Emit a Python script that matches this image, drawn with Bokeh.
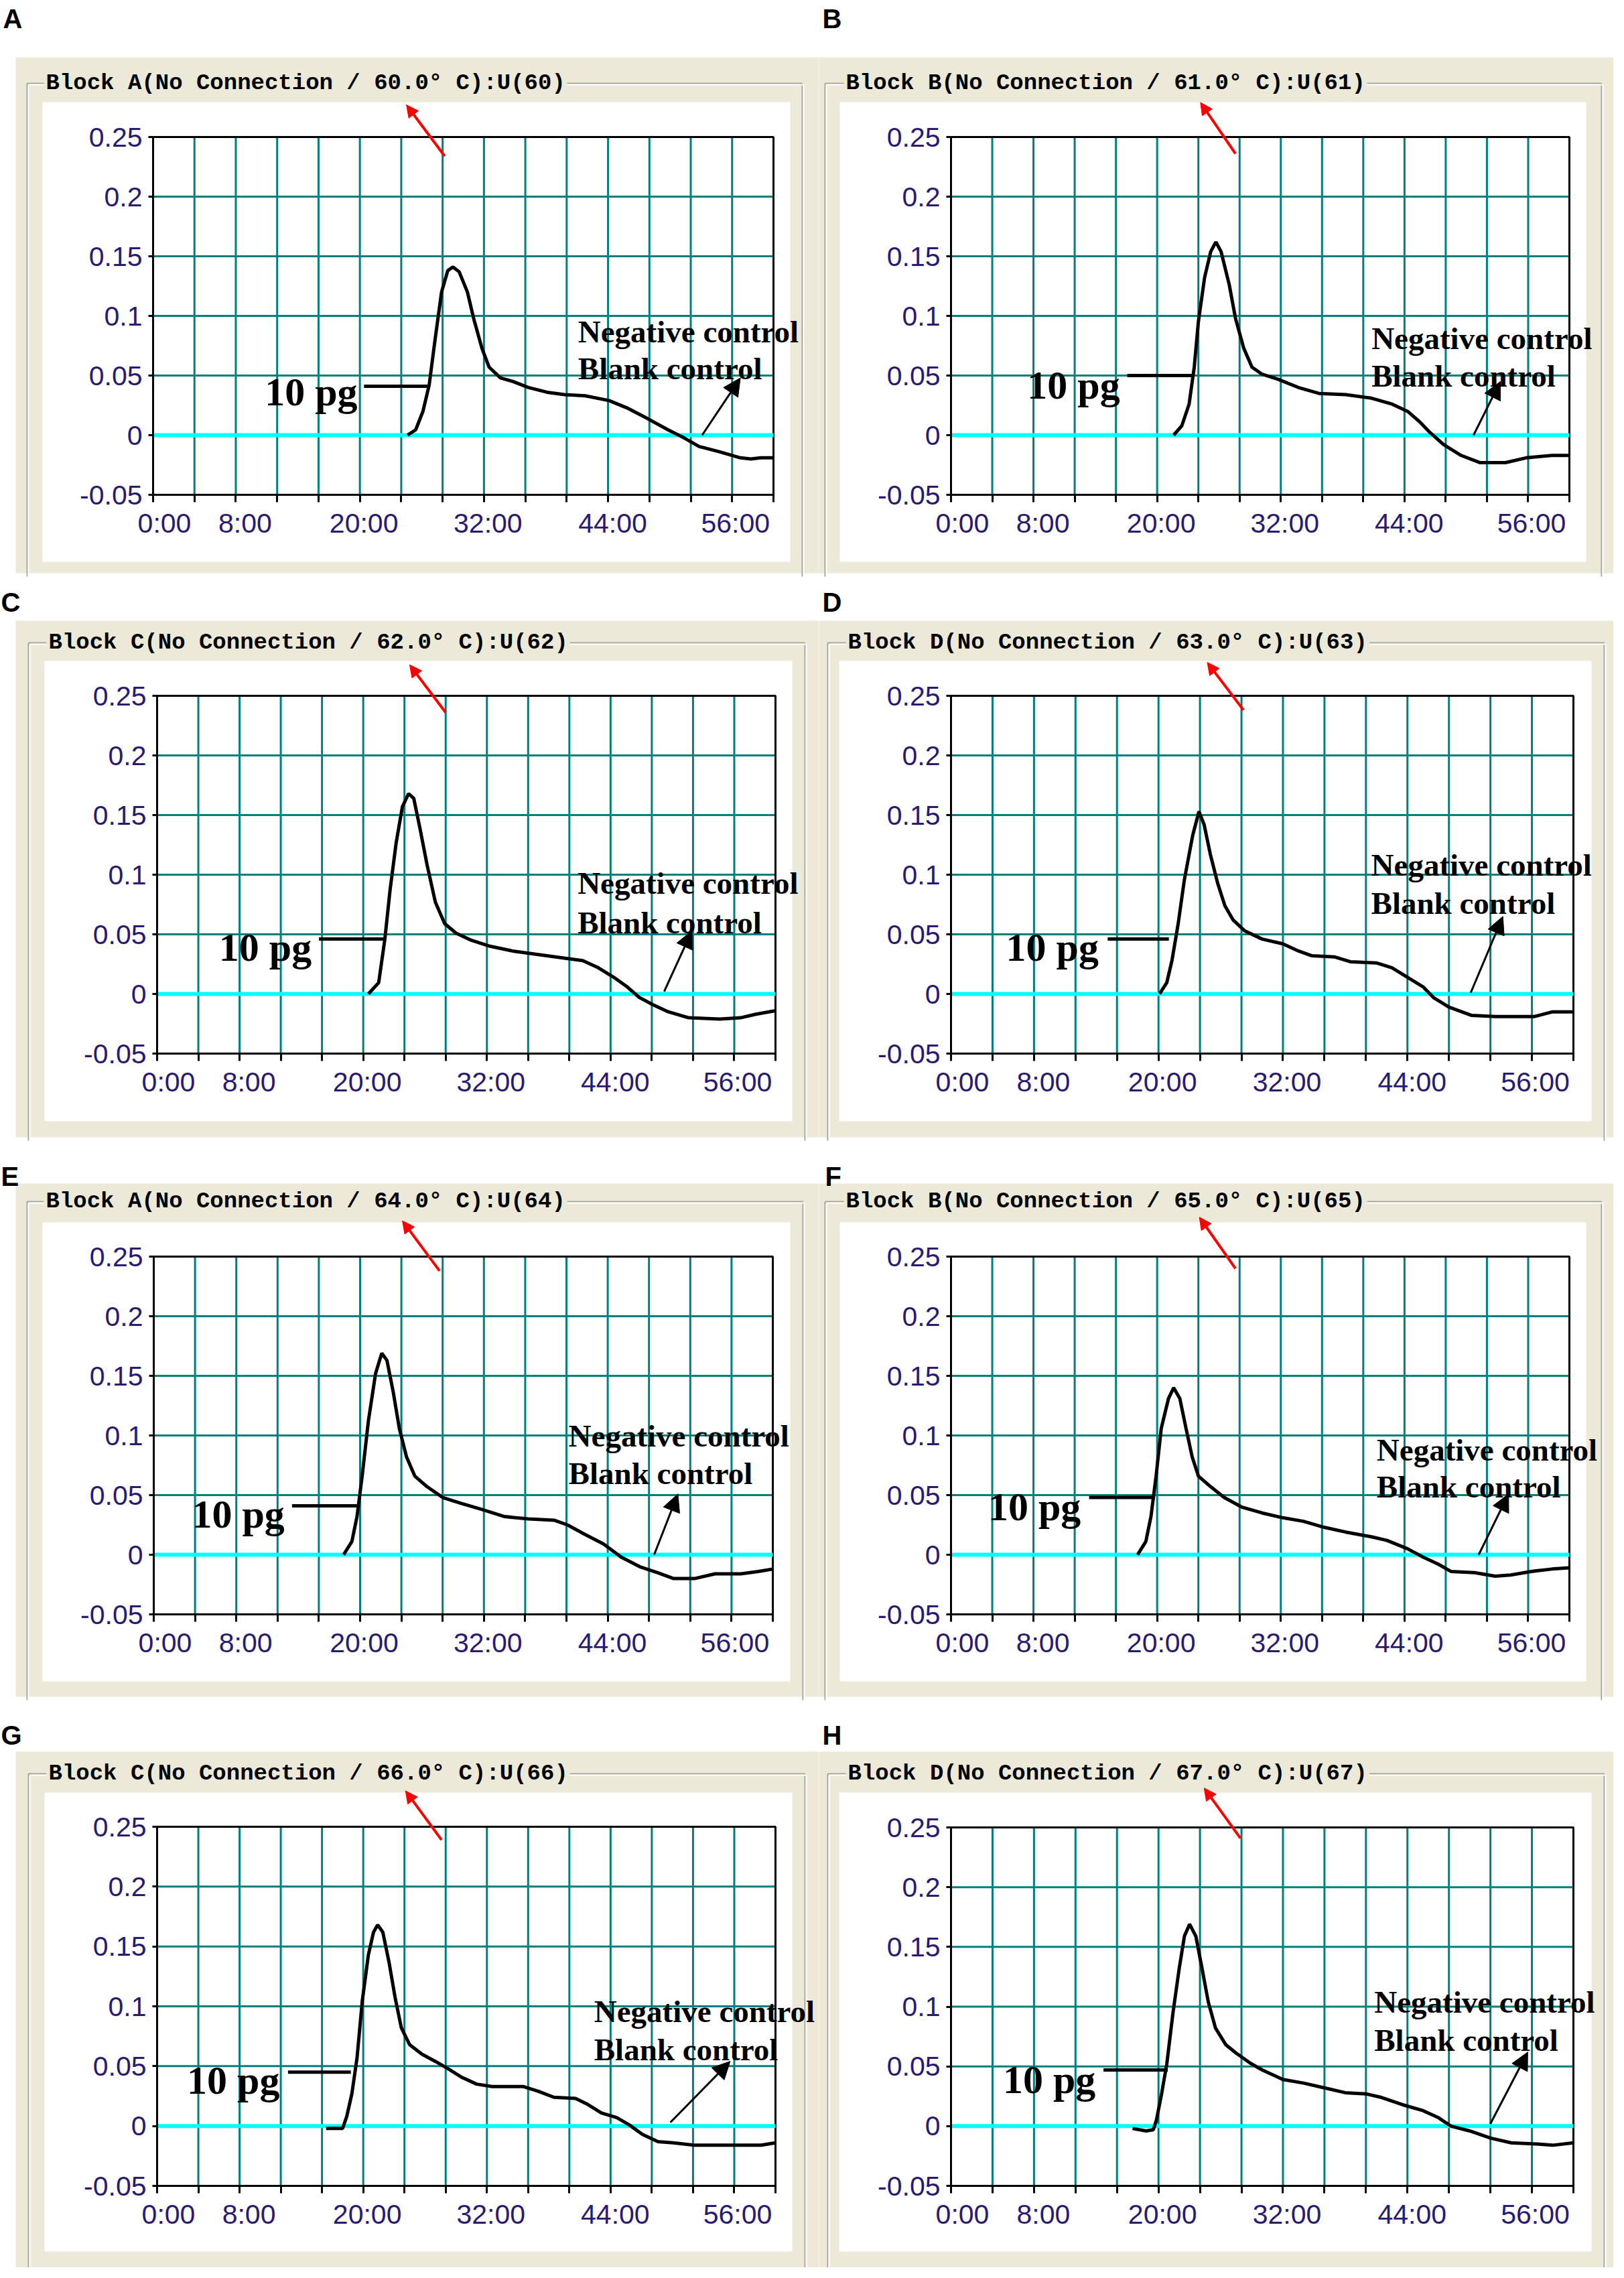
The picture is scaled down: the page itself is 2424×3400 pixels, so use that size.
from bokeh.plotting import figure
from bokeh.models import (Range1d, FixedTicker, CustomJSTickFormatter, BoxAnnotation,
                          Label, Arrow, NormalHead, LinearAxis)
from bokeh.layouts import column, row
from bokeh.embed import file_html
from bokeh.resources import INLINE

# ---------------- data ----------------
X_TICKS = [0, 4, 8, 12, 16, 20, 24, 28, 32, 36, 40, 44, 48, 52, 56, 60]
X_LABEL_POS = [0, 8, 20, 32, 44, 56]
X_LABELS = ["0:00", "8:00", "20:00", "32:00", "44:00", "56:00"]
Y_TICKS = [-0.05, 0, 0.05, 0.1, 0.15, 0.2, 0.25]
Y_LABELS = ["-0.05", "0", "0.05", "0.1", "0.15", "0.2", "0.25"]
X_MIN, X_MAX = 0, 60
Y_MIN, Y_MAX = -0.05, 0.25

PANEL_LETTERS = ["A", "B", "C", "D", "E", "F", "G", "H"]
BLOCKS = ["A", "B", "C", "D", "A", "B", "C", "D"]
TEMPS = [60, 61, 62, 63, 64, 65, 66, 67]

# blank / negative control traces (flat at zero)
CONTROL_TIME = [0, 60]
CONTROL_SIGNAL = [0, 0]

# 10 pg amplification traces (minutes, signal)
A_TIME = [24.6, 25.4, 26.1, 26.7, 27.3, 27.9, 28.5, 29.0, 29.6, 30.4, 31.0, 31.8, 32.5, 33.6, 34.8,
          36.3, 38.1, 39.8, 41.8, 44.1, 45.8, 47.8, 49.8, 51.3, 52.8, 54.8, 56.8, 57.8, 58.8, 60.0]
A_SIGNAL = [0.0, 0.0045, 0.020, 0.042, 0.082, 0.120, 0.138, 0.141, 0.137, 0.120, 0.098, 0.073, 0.057,
            0.048, 0.045, 0.040, 0.036, 0.034, 0.033, 0.029, 0.023, 0.014, 0.0045, -0.002, -0.0095,
            -0.014, -0.019, -0.020, -0.019, -0.019]

B_TIME = [21.6, 22.4, 23.1, 23.6, 24.0, 24.6, 25.2, 25.7, 26.2, 27.0, 27.6, 28.4, 29.2, 30.2, 31.7,
          33.7, 35.7, 38.3, 40.8, 42.8, 44.3, 45.5, 46.5, 47.8, 49.5, 51.3, 53.8, 55.8, 58.3, 60.0]
B_SIGNAL = [0.0, 0.008, 0.026, 0.057, 0.095, 0.132, 0.154, 0.162, 0.154, 0.126, 0.098, 0.073, 0.057,
            0.051, 0.047, 0.040, 0.035, 0.034, 0.031, 0.026, 0.020, 0.011, 0.002, -0.008, -0.017,
            -0.023, -0.023, -0.019, -0.017, -0.017]

C_TIME = [20.5, 21.5, 22.1, 22.6, 23.2, 23.8, 24.4, 24.9, 25.5, 26.2, 27.0, 27.9, 29.0, 30.5, 32.3,
          34.5, 37.0, 39.5, 41.3, 42.8, 44.3, 45.6, 46.8, 48.1, 49.6, 51.6, 54.6, 56.6, 58.1, 60.0]
C_SIGNAL = [0.0, 0.0095, 0.046, 0.087, 0.127, 0.157, 0.168, 0.164, 0.139, 0.108, 0.077, 0.059, 0.051,
            0.045, 0.040, 0.036, 0.033, 0.030, 0.028, 0.022, 0.014, 0.006, -0.003, -0.009, -0.015,
            -0.020, -0.021, -0.020, -0.017, -0.014]

D_TIME = [20.1, 20.8, 21.3, 21.9, 22.5, 23.3, 23.9, 24.4, 25.0, 25.7, 26.4, 27.2, 28.3, 30.0, 32.0,
          33.5, 34.8, 37.0, 38.5, 41.0, 42.5, 44.0, 45.5, 46.5, 48.0, 50.2, 52.5, 56.2, 58.0, 60.0]
D_SIGNAL = [0.0, 0.0095, 0.028, 0.059, 0.096, 0.133, 0.153, 0.142, 0.117, 0.093, 0.074, 0.062, 0.053,
            0.046, 0.042, 0.036, 0.032, 0.031, 0.027, 0.026, 0.022, 0.014, 0.006, -0.003, -0.011,
            -0.018, -0.019, -0.019, -0.015, -0.015]

E_TIME = [18.4, 19.2, 19.7, 20.2, 20.8, 21.5, 22.1, 22.6, 23.2, 23.8, 24.5, 25.3, 26.5, 28.0, 29.8,
          31.8, 34.0, 36.3, 38.8, 40.1, 41.8, 43.6, 45.3, 47.1, 48.8, 50.4, 52.4, 54.4, 56.9, 58.6, 60.0]
E_SIGNAL = [0.0, 0.011, 0.032, 0.066, 0.112, 0.152, 0.169, 0.163, 0.137, 0.106, 0.082, 0.066, 0.057,
            0.048, 0.043, 0.038, 0.032, 0.030, 0.029, 0.025, 0.017, 0.009, -0.002, -0.010, -0.015,
            -0.020, -0.020, -0.016, -0.016, -0.014, -0.012]

F_TIME = [18.1, 18.9, 19.4, 19.9, 20.4, 21.1, 21.6, 22.2, 22.8, 23.4, 24.0, 25.2, 26.5, 28.2, 30.2,
          32.2, 34.2, 36.2, 38.3, 40.8, 42.3, 44.3, 45.8, 47.3, 48.5, 50.8, 52.8, 54.3, 56.3, 58.3, 60.0]
F_SIGNAL = [0.0, 0.011, 0.032, 0.066, 0.106, 0.131, 0.140, 0.131, 0.106, 0.082, 0.066, 0.057, 0.048,
            0.040, 0.035, 0.031, 0.028, 0.023, 0.019, 0.015, 0.012, 0.005, -0.002, -0.008, -0.014,
            -0.015, -0.018, -0.017, -0.014, -0.012, -0.011]

G_TIME = [16.4, 18.0, 18.4, 18.9, 19.4, 19.9, 20.5, 21.0, 21.4, 21.9, 22.5, 23.1, 23.7, 24.5, 25.7,
          27.0, 28.2, 29.5, 31.0, 32.5, 35.5, 37.0, 38.5, 40.6, 41.8, 43.1, 44.6, 45.8, 47.1, 48.6,
          50.1, 52.1, 55.6, 58.6, 60.0]
G_SIGNAL = [-0.002, -0.002, 0.008, 0.027, 0.057, 0.104, 0.143, 0.162, 0.168, 0.162, 0.137, 0.107,
            0.082, 0.068, 0.060, 0.054, 0.048, 0.041, 0.035, 0.033, 0.033, 0.029, 0.024, 0.023, 0.018,
            0.011, 0.007, 0.001, -0.007, -0.013, -0.014, -0.016, -0.016, -0.016, -0.014]

H_TIME = [17.5, 18.8, 19.5, 19.8, 20.3, 20.8, 21.4, 22.0, 22.5, 23.0, 23.6, 24.2, 24.8, 25.5, 26.5,
          27.5, 28.8, 30.0, 32.0, 34.0, 36.0, 38.0, 40.0, 41.5, 43.5, 45.5, 47.0, 48.2, 50.0, 52.0,
          54.0, 56.5, 58.0, 60.0]
H_SIGNAL = [-0.002, -0.004, -0.003, 0.005, 0.027, 0.052, 0.095, 0.132, 0.159, 0.169, 0.159, 0.132,
            0.104, 0.082, 0.068, 0.061, 0.053, 0.047, 0.039, 0.036, 0.032, 0.028, 0.027, 0.024, 0.018,
            0.013, 0.007, 0.000, -0.004, -0.010, -0.014, -0.015, -0.016, -0.014]

TRACES = [(A_TIME, A_SIGNAL), (B_TIME, B_SIGNAL), (C_TIME, C_SIGNAL), (D_TIME, D_SIGNAL),
          (E_TIME, E_SIGNAL), (F_TIME, F_SIGNAL), (G_TIME, G_SIGNAL), (H_TIME, H_SIGNAL)]

# ---------------- annotation placement (data coords) ----------------
PG_LABEL = [(10.8, 0.036), (7.4, 0.042), (6.0, 0.039), (5.3, 0.039),
            (3.7, 0.034), (3.6, 0.040), (2.9, 0.038), (5.0, 0.039)]
PG_LEADER = [(20.4, 26.7, 0.041), (17.1, 23.4, 0.050), (15.7, 22.1, 0.046), (15.1, 21.0, 0.046),
             (13.4, 19.7, 0.041), (13.4, 19.8, 0.048), (12.7, 18.8, 0.045), (14.7, 20.9, 0.047)]
CTRL_TEXT = [(41.1, 0.087, 0.056), (40.8, 0.081, 0.050), (40.8, 0.093, 0.060), (40.5, 0.108, 0.076),
             (40.2, 0.100, 0.068), (41.3, 0.088, 0.057), (42.4, 0.096, 0.064), (40.8, 0.104, 0.072)]
CTRL_ARROW = [(53.1, 0.0, 56.8, 0.048), (50.7, 0.0, 53.3, 0.045), (49.2, 0.002, 51.9, 0.053),
              (50.1, 0.001, 53.2, 0.065), (48.5, 0.0, 50.8, 0.051), (51.2, 0.0, 54.1, 0.051),
              (49.8, 0.003, 55.6, 0.054), (52.0, 0.002, 55.6, 0.062)]
RED_ARROW = [(28.2, 0.234, 24.5, 0.277), (27.6, 0.236, 24.2, 0.279), (28.0, 0.236, 24.5, 0.276),
             (28.2, 0.238, 24.7, 0.278), (27.7, 0.238, 24.1, 0.280), (27.6, 0.240, 24.1, 0.283),
             (27.6, 0.239, 24.1, 0.280), (27.9, 0.241, 24.4, 0.283)]

# ---------------- panel geometry (page pixels) ----------------
ROWS = [(8, 865), (873, 842), (1715, 845), (2560, 832)]
COLS = [(8, 1222), (1230, 1186)]
GEOM = [
    dict(plot=(236, 212, 1162, 746), beige=(31, 93, 1240, 863), gb=(48, 132, 1205), white=(71, 160, 1187, 846), title=73, letter=(12, 19)),
    dict(plot=(1427, 212, 2350, 746), beige=(1220, 93, 2416, 863), gb=(1239, 132, 2398), white=(1261, 160, 2375, 846), title=1267, letter=(1235, 19)),
    dict(plot=(242, 1046, 1165, 1580), beige=(31, 934, 1240, 1705), gb=(50, 967, 1209), white=(74, 994, 1190, 1681), title=77, letter=(9, 890)),
    dict(plot=(1427, 1046, 2356, 1580), beige=(1220, 934, 2416, 1705), gb=(1243, 967, 2402), white=(1260, 994, 2383, 1681), title=1270, letter=(1235, 890)),
    dict(plot=(237, 1883, 1161, 2417), beige=(31, 1774, 1240, 2540), gb=(48, 1801, 1206), white=(71, 1832, 1187, 2517), title=73, letter=(9, 1747)),
    dict(plot=(1427, 1883, 2350, 2417), beige=(1220, 1774, 2416, 2540), gb=(1239, 1801, 2398), white=(1261, 1832, 2375, 2517), title=1267, letter=(1239, 1747)),
    dict(plot=(242, 2734, 1165, 3270), beige=(31, 2622, 1240, 3393), gb=(50, 2655, 1209), white=(74, 2683, 1190, 3368), title=77, letter=(9, 2581)),
    dict(plot=(1427, 2735, 2356, 3270), beige=(1220, 2622, 2416, 3393), gb=(1243, 2655, 2402), white=(1260, 2683, 2383, 3368), title=1270, letter=(1235, 2581)),
]
# x tick labels sit slightly right of their tick (pixels)
X_LABEL_SHIFT_PX = [17, 14, 6, 6, 7, 5]

BEIGE = "#ECE9D8"
GRID = "#007F7F"
TICK_TXT = "#2A1A72"
GB_DARK = "#A3A39A"

MATCH_JS = """
for (let k = 0; k < pos.length; k++) { if (Math.abs(pos[k] - tick) < 1e-6) return lab[k]; }
return '';"""


def make_panel(i):
    r, c = divmod(i, 2)
    oy, h = ROWS[r]
    ox, w = COLS[c]
    g = GEOM[i]
    pl, pt, pr, pb = g["plot"]

    def dx(px):
        return X_MIN + (px - pl) / (pr - pl) * (X_MAX - X_MIN)

    def dy(py):
        return Y_MAX - (py - pt) / (pb - pt) * (Y_MAX - Y_MIN)

    p = figure(width=w, height=h,
               x_range=Range1d(dx(ox), dx(ox + w)), y_range=Range1d(dy(oy + h), dy(oy)),
               output_backend="svg", toolbar_location=None,
               min_border=0, min_border_left=0, min_border_right=0,
               min_border_top=0, min_border_bottom=0,
               border_fill_color="white", background_fill_color="white",
               outline_line_color=None)

    # --- window decoration (beige panel, group box, white chart area) ---
    bl, bt, br, bb = g["beige"]
    p.add_layout(BoxAnnotation(left=dx(bl), right=dx(br), top=dy(bt), bottom=dy(bb),
                               fill_color=BEIGE, fill_alpha=1, line_alpha=0, level="image"))
    gl, gt, gr = g["gb"]
    for off, col in ((0, GB_DARK), (2, "white")):
        for (x0, y0, x1, y1) in ((gl + off, gt + off, gl + off, bb + 5),
                                 (gl + off, gt + off, gr + off, gt + off),
                                 (gr + off, gt + off, gr + off, bb + 5)):
            p.add_layout(Arrow(end=None, x_start=dx(x0), y_start=dy(y0), x_end=dx(x1), y_end=dy(y1),
                               line_color=col, line_width=2, level="image"))
    wl, wt, wr, wb = g["white"]
    p.add_layout(BoxAnnotation(left=dx(wl), right=dx(wr), top=dy(wt), bottom=dy(wb),
                               fill_color="white", fill_alpha=1, line_alpha=0, level="image"))
    title = f"Block {BLOCKS[i]}(No Connection / {TEMPS[i]:.1f}° C):U({TEMPS[i]})"
    p.add_layout(Label(x=dx(g["title"]), y=dy(gt - 1), text=title, text_font="Liberation Mono",
                       text_font_style="bold", text_font_size="34px", text_color="black",
                       text_baseline="middle", background_fill_color=BEIGE, padding=3, level="image"))
    lx, ly = g["letter"]
    p.add_layout(Label(x=dx(lx), y=dy(ly - 6), text=PANEL_LETTERS[i], text_font="Liberation Sans",
                       text_font_style="bold", text_font_size="40px", text_color="black",
                       text_baseline="top", level="image"))

    # --- grid and frame of the chart ---
    gx = [t for t in X_TICKS if X_MIN < t < X_MAX]
    gy = [t for t in Y_TICKS if Y_MIN < t < Y_MAX]
    p.segment(x0=gx, y0=[Y_MIN] * len(gx), x1=gx, y1=[Y_MAX] * len(gx), line_color=GRID, line_width=3)
    p.segment(x0=[X_MIN] * len(gy), y0=gy, x1=[X_MAX] * len(gy), y1=gy, line_color=GRID, line_width=3)
    p.quad(left=[X_MIN], right=[X_MAX], bottom=[Y_MIN], top=[Y_MAX], fill_alpha=0,
           line_color="black", line_width=3)
    p.grid.visible = False

    # --- axes (library axes pinned to the chart frame) ---
    xa = p.xaxis[0]
    ya = p.yaxis[0]
    xa.fixed_location = Y_MIN
    ya.fixed_location = X_MIN
    xa.bounds = (X_MIN, X_MAX)
    ya.bounds = (Y_MIN, Y_MAX)
    xa.ticker = FixedTicker(ticks=X_TICKS)
    ya.ticker = FixedTicker(ticks=Y_TICKS)
    xa.formatter = CustomJSTickFormatter(code="return '';")
    ya.formatter = CustomJSTickFormatter(args=dict(pos=Y_TICKS, lab=Y_LABELS), code=MATCH_JS)
    for a in (xa, ya):
        a.axis_line_color = "black"
        a.axis_line_width = 3
        a.major_tick_line_color = "black"
        a.major_tick_line_width = 3
        a.major_tick_in = 0
        a.minor_tick_line_color = None
        a.major_label_text_font = "Liberation Sans"
        a.major_label_text_font_size = "41px"
        a.major_label_text_color = TICK_TXT
    xa.major_tick_out = 11
    ya.major_tick_out = 7
    ya.major_label_standoff = 9

    ppm = (pr - pl) / (X_MAX - X_MIN)
    lab_pos = [pos + s / ppm for pos, s in zip(X_LABEL_POS, X_LABEL_SHIFT_PX)]
    la = LinearAxis(fixed_location=Y_MIN, bounds=(X_MIN - 5, X_MAX + 5),
                    ticker=FixedTicker(ticks=lab_pos),
                    formatter=CustomJSTickFormatter(args=dict(pos=lab_pos, lab=X_LABELS), code=MATCH_JS),
                    axis_line_color=None, major_tick_line_color=None, minor_tick_line_color=None,
                    major_tick_out=11, major_tick_in=0, major_label_standoff=8,
                    major_label_text_font="Liberation Sans", major_label_text_font_size="41px",
                    major_label_text_color=TICK_TXT)
    p.add_layout(la, "below")

    # --- traces ---
    p.line(CONTROL_TIME, CONTROL_SIGNAL, line_color="#00FFFF", line_width=6)
    t, s = TRACES[i]
    p.line(t, s, line_color="black", line_width=5)

    # --- annotations ---
    x0, x1, yl = PG_LEADER[i]
    p.segment(x0=[x0], y0=[yl], x1=[x1], y1=[yl], line_color="black", line_width=5)
    px_, py_ = PG_LABEL[i]
    p.add_layout(Label(x=px_, y=py_, text="10 pg", text_font="Liberation Serif", text_font_style="bold",
                       text_font_size="60px", text_color="black", text_baseline="alphabetic"))
    cx, cy1, cy2 = CTRL_TEXT[i]
    p.add_layout(Label(x=cx, y=cy1, text="Negative control", text_font="Liberation Serif",
                       text_font_style="bold", text_font_size="47px", text_color="black",
                       text_baseline="alphabetic"))
    p.add_layout(Label(x=cx, y=cy2, text="Blank control", text_font="Liberation Serif",
                       text_font_style="bold", text_font_size="47px", text_color="black",
                       text_baseline="alphabetic"))
    ax0, ay0, ax1, ay1 = CTRL_ARROW[i]
    p.add_layout(Arrow(end=NormalHead(size=26, fill_color="black", line_color="black"),
                       x_start=ax0, y_start=ay0, x_end=ax1, y_end=ay1,
                       line_color="black", line_width=3))
    rx0, ry0, rx1, ry1 = RED_ARROW[i]
    p.add_layout(Arrow(end=NormalHead(size=18, fill_color="red", line_color="red"),
                       x_start=rx0, y_start=ry0, x_end=rx1, y_end=ry1,
                       line_color="red", line_width=4))
    return p


panels = [make_panel(i) for i in range(8)]
layout = column(*[row(panels[2 * k], panels[2 * k + 1], spacing=0) for k in range(4)], spacing=0)

open("out.html", "w").write(file_html(layout, INLINE))
